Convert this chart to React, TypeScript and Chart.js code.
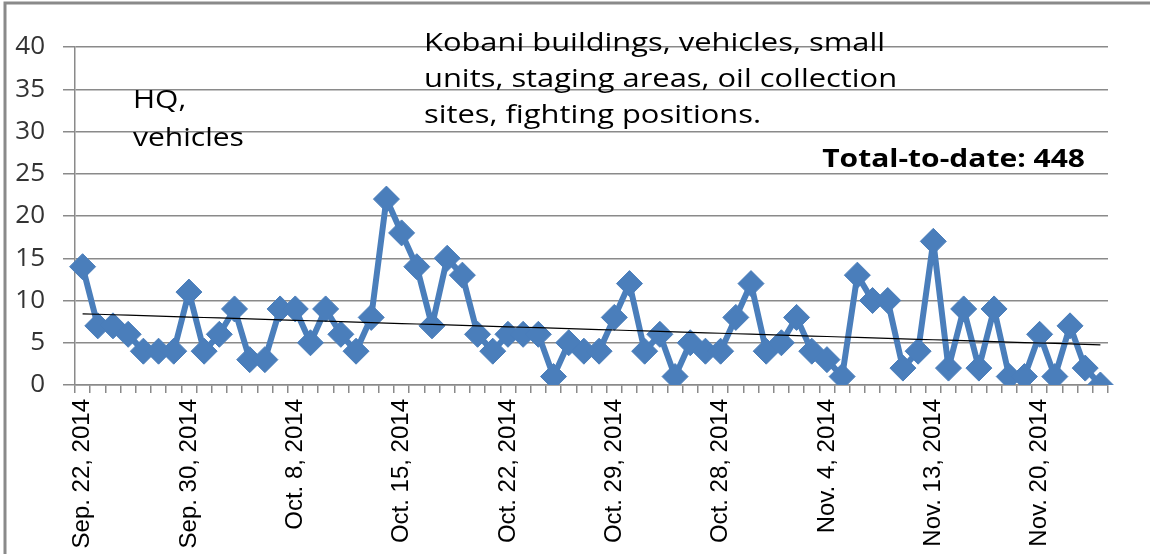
import React, { useEffect, useRef } from "react";
import { Chart, registerables } from "chart.js";

Chart.register(...registerables);

// Daily strike counts
const strikes: number[] = [
  14, 7, 7, 6, 4, 4, 4, 11, 4, 6,
  9, 3, 3, 9, 9, 5, 9, 6, 4, 8,
  22, 18, 14, 7, 15, 13, 6, 4, 6, 6,
  6, 1, 5, 4, 4, 8, 12, 4, 6, 1,
  5, 4, 4, 8, 12, 4, 5, 8, 4, 3,
  1, 13, 10, 10, 2, 4, 17, 2, 9, 2,
  9, 1, 1, 6, 1, 7, 2, 0,
];

// Date labels shown on the x axis (one every 7 points)
const tickLabels: string[] = [
  "Sep. 22, 2014",
  "Sep. 30, 2014",
  "Oct. 8, 2014",
  "Oct. 15, 2014",
  "Oct. 22, 2014",
  "Oct. 29, 2014",
  "Oct. 28, 2014",
  "Nov. 4, 2014",
  "Nov. 13, 2014",
  "Nov. 20, 2014",
];
const labelEvery = 7;

const yMin = 0;
const yMax = 40;
const yStep = 5;

const noteLeft: string[] = ["HQ,", "vehicles"];
const noteTop: string[] = [
  "Kobani buildings, vehicles, small",
  "units, staging areas, oil collection",
  "sites, fighting positions.",
];
const totalText = "Total-to-date: 448";

function linearTrend(values: number[]): number[] {
  const n = values.length;
  let sx = 0, sy = 0, sxx = 0, sxy = 0;
  values.forEach((v, i) => {
    sx += i; sy += v; sxx += i * i; sxy += i * v;
  });
  const slope = (n * sxy - sx * sy) / (n * sxx - sx * sx);
  const icpt = (sy - slope * sx) / n;
  return values.map((_, i) => icpt + slope * i);
}

function stretchedText(ctx: CanvasRenderingContext2D, text: string, x: number, y: number, sx: number) {
  ctx.save();
  ctx.translate(x, y);
  ctx.scale(sx, 1);
  ctx.fillText(text, 0, 0);
  ctx.restore();
}

export default function App() {
  const ref = useRef<HTMLCanvasElement | null>(null);

  useEffect(() => {
    document.body.style.margin = "0";
    const canvas = ref.current;
    if (!canvas) return;

    const categories = strikes.map((_, i) =>
      i % labelEvery === 0 && tickLabels[i / labelEvery] ? tickLabels[i / labelEvery] : ""
    );
    const trend = linearTrend(strikes);

    const overlay = {
      id: "overlay",
      beforeDraw(chart: any) {
        const ctx = chart.ctx;
        ctx.save();
        ctx.fillStyle = "#ffffff";
        ctx.fillRect(0, 0, chart.width, chart.height);
        ctx.strokeStyle = "#8a8a8a";
        ctx.lineWidth = 3;
        ctx.beginPath();
        ctx.moveTo(5, chart.height + 5);
        ctx.lineTo(5, 3);
        ctx.lineTo(chart.width + 5, 3);
        ctx.stroke();
        ctx.restore();
      },
      afterDraw(chart: any) {
        const ctx = chart.ctx;
        ctx.save();
        ctx.fillStyle = "#000000";
        ctx.textAlign = "left";
        ctx.textBaseline = "alphabetic";
        ctx.font = "25px 'Open Sans'";
        noteLeft.forEach((t, i) => stretchedText(ctx, t, 133, 108 + i * 38, 1.2));
        noteTop.forEach((t, i) => stretchedText(ctx, t, 424, 51 + i * 36, 1.235));
        ctx.font = "bold 25px 'Open Sans'";
        ctx.textAlign = "right";
        stretchedText(ctx, totalText, 1085, 167, 1.2);
        ctx.restore();
      },
    };

    const chart = new Chart(canvas, {
      type: "line",
      data: {
        labels: categories,
        datasets: [
          {
            label: "Trend",
            data: trend,
            borderColor: "#000000",
            borderWidth: 1.2,
            pointRadius: 0,
            fill: false,
            order: 0,
          },
          {
            label: "Strikes",
            data: strikes,
            borderColor: "#4a7ebb",
            backgroundColor: "#4a7ebb",
            borderWidth: 6,
            borderJoinStyle: "round",
            pointStyle: "rectRot",
            pointRadius: 13,
            pointBorderWidth: 1,
            pointBorderColor: "#4a7ebb",
            pointBackgroundColor: "#4a7ebb",
            fill: false,
            tension: 0,
            order: 1,
          },
        ],
      },
      options: {
        responsive: false,
        animation: false,
        devicePixelRatio: 1,
        layout: { padding: { top: 47, right: 42, left: 0, bottom: 0 } },
        plugins: {
          legend: { display: false },
          tooltip: { enabled: false },
          title: { display: false },
        },
        scales: {
          x: {
            type: "category",
            offset: true,
            afterFit: (s: any) => { s.height = 169; },
            grid: {
              display: true,
              offset: true,
              drawOnChartArea: false,
              drawTicks: true,
              tickLength: 8,
              color: "#8a8a8a",
              lineWidth: 1.5,
            },
            border: { display: true, color: "#8a8a8a", width: 1.5 },
            ticks: {
              autoSkip: false,
              minRotation: 90,
              maxRotation: 90,
              padding: 6,
              color: "#000000",
              font: { family: "'Liberation Sans', Arial, sans-serif", size: 24 },
            },
          },
          y: {
            min: yMin,
            max: yMax,
            afterFit: (s: any) => { s.width = 75; },
            grid: {
              display: true,
              drawTicks: true,
              tickLength: 12,
              color: "#8a8a8a",
              lineWidth: 1.5,
            },
            border: { display: true, color: "#8a8a8a", width: 1.5 },
            ticks: {
              stepSize: yStep,
              padding: 18,
              color: "#333333",
              font: { family: "'Open Sans', sans-serif", size: 26 },
            },
          },
        },
      },
      plugins: [overlay],
    });

    return () => chart.destroy();
  }, []);

  return (
    <div style={{ width: 1150, height: 554, position: "relative", background: "#fff" }}>
      <canvas ref={ref} width={1150} height={554} style={{ display: "block" }} />
    </div>
  );
}
